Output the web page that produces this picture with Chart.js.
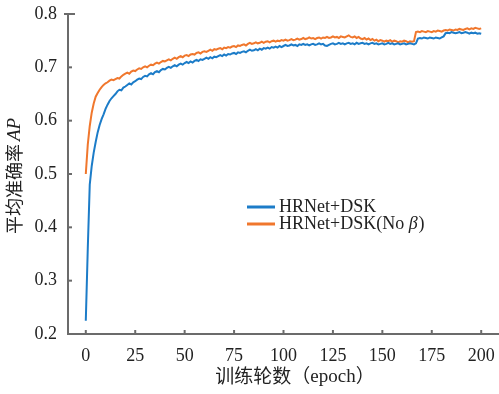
<!DOCTYPE html>
<html>
<head>
<meta charset="utf-8">
<script src="https://cdn.jsdelivr.net/npm/chart.js@4.4.0/dist/chart.umd.min.js"></script>
<style>
  html, body { margin: 0; padding: 0; background: #fff; }
  #wrap { width: 499px; height: 394px; }
</style>
</head>
<body>
<div id="wrap"><canvas id="apChart" width="499" height="394"></canvas></div>
<script>
// training epochs 0..200
var epochs = [];
for (var i = 0; i <= 200; i++) epochs.push(i);

var xTicks = [0, 25, 50, 75, 100, 125, 150, 175, 200];
var yTicks = [0.2, 0.3, 0.4, 0.5, 0.6, 0.7, 0.8];

// HRNet+DSK
var apDsk = [
  0.225, 0.360, 0.480, 0.515, 0.540, 0.560, 0.578, 0.592, 0.603, 0.612,
  0.622, 0.630, 0.637, 0.642, 0.646, 0.650, 0.655, 0.658, 0.657, 0.662,
  0.664, 0.667, 0.670, 0.668, 0.672, 0.674, 0.677, 0.679, 0.678, 0.682,
  0.684, 0.683, 0.687, 0.689, 0.687, 0.691, 0.693, 0.691, 0.695, 0.697,
  0.696, 0.699, 0.701, 0.699, 0.702, 0.704, 0.702, 0.705, 0.707, 0.705,
  0.708, 0.710, 0.708, 0.711, 0.709, 0.712, 0.714, 0.712, 0.715, 0.714,
  0.716, 0.718, 0.716, 0.719, 0.717, 0.720, 0.719, 0.721, 0.723, 0.721,
  0.724, 0.722, 0.725, 0.724, 0.726, 0.727, 0.725, 0.728, 0.727, 0.729,
  0.730, 0.728, 0.731, 0.733, 0.731, 0.732, 0.734, 0.732, 0.735, 0.733,
  0.736, 0.735, 0.737, 0.735, 0.738, 0.737, 0.739, 0.737, 0.740, 0.738,
  0.740, 0.742, 0.740, 0.741, 0.743, 0.741, 0.742, 0.740, 0.743, 0.742,
  0.744, 0.742, 0.743, 0.741, 0.743, 0.744, 0.742, 0.743, 0.745, 0.743,
  0.744, 0.741, 0.740, 0.742, 0.744, 0.745, 0.743, 0.744, 0.746, 0.744,
  0.745, 0.743, 0.745, 0.746, 0.744, 0.745, 0.743, 0.746, 0.744, 0.745,
  0.746, 0.744, 0.745, 0.743, 0.745, 0.746, 0.744, 0.745, 0.743, 0.744,
  0.745, 0.743, 0.744, 0.746, 0.744, 0.745, 0.743, 0.744, 0.745, 0.743,
  0.744, 0.745, 0.743, 0.744, 0.745, 0.744, 0.743, 0.745, 0.754, 0.755,
  0.754, 0.756, 0.755, 0.754, 0.756, 0.755, 0.754, 0.756, 0.755, 0.754,
  0.756, 0.758, 0.764, 0.765, 0.764, 0.766, 0.765, 0.764, 0.765, 0.766,
  0.764, 0.765, 0.766, 0.765, 0.763, 0.765, 0.764, 0.765, 0.763, 0.764,
  0.763
];

// HRNet+DSK(No β)
var apNoBeta = [
  0.500, 0.555, 0.590, 0.615, 0.632, 0.645, 0.652, 0.658, 0.663, 0.667,
  0.670, 0.672, 0.675, 0.677, 0.676, 0.678, 0.680, 0.679, 0.683, 0.686,
  0.688, 0.690, 0.688, 0.692, 0.694, 0.693, 0.696, 0.698, 0.697, 0.700,
  0.702, 0.700, 0.703, 0.705, 0.704, 0.707, 0.709, 0.707, 0.710, 0.712,
  0.711, 0.713, 0.715, 0.713, 0.716, 0.718, 0.716, 0.719, 0.721, 0.719,
  0.722, 0.723, 0.721, 0.724, 0.725, 0.724, 0.727, 0.728, 0.726, 0.729,
  0.730, 0.729, 0.731, 0.733, 0.731, 0.734, 0.733, 0.735, 0.736, 0.734,
  0.737, 0.736, 0.738, 0.737, 0.739, 0.740, 0.738, 0.741, 0.740, 0.742,
  0.743, 0.741, 0.744, 0.746, 0.744, 0.745, 0.747, 0.745, 0.746, 0.748,
  0.746, 0.748, 0.749, 0.747, 0.749, 0.750, 0.748, 0.750, 0.749, 0.751,
  0.750, 0.752, 0.750, 0.751, 0.753, 0.751, 0.752, 0.754, 0.752, 0.753,
  0.755, 0.753, 0.754, 0.756, 0.754, 0.755, 0.753, 0.755, 0.756, 0.754,
  0.756, 0.755, 0.757, 0.755, 0.756, 0.758, 0.756, 0.757, 0.755, 0.758,
  0.757, 0.756, 0.758, 0.760, 0.757, 0.756, 0.758, 0.755, 0.757, 0.754,
  0.753, 0.755, 0.752, 0.754, 0.751, 0.753, 0.750, 0.752, 0.749, 0.751,
  0.750, 0.748, 0.750, 0.749, 0.751, 0.748, 0.750, 0.749, 0.747, 0.749,
  0.748, 0.750, 0.749, 0.747, 0.749, 0.748, 0.749, 0.766, 0.767, 0.766,
  0.768, 0.767, 0.766, 0.768, 0.767, 0.766, 0.768, 0.767, 0.769, 0.768,
  0.767, 0.769, 0.770, 0.769, 0.771, 0.770, 0.769, 0.771, 0.770, 0.772,
  0.771, 0.770, 0.772, 0.773, 0.771, 0.773, 0.772, 0.774, 0.773, 0.772,
  0.773
];

var serif = '"Liberation Serif", "Times New Roman", serif';
var cjk = '"Noto Sans CJK SC", "Liberation Serif", serif';
var axisColor = '#6b6b6b';
var textColor = '#222';

// short ticks pointing into the plot, plus titles and legend
var decorPlugin = {
    id: 'decor',
    afterDraw: function (chart) {
        var ctx = chart.ctx;
        var area = chart.chartArea;
        var xs = chart.scales.x, ys = chart.scales.y;
        ctx.save();
        ctx.strokeStyle = axisColor;
        ctx.lineWidth = 2;
        xs.ticks.forEach(function (t) {
            var px = xs.getPixelForValue(t.value);
            ctx.beginPath();
            ctx.moveTo(px, area.bottom);
            ctx.lineTo(px, area.bottom - 4);
            ctx.stroke();
        });
        ys.ticks.forEach(function (t) {
            var py = ys.getPixelForValue(t.value);
            ctx.beginPath();
            ctx.moveTo(area.left - (t.value === 0.8 ? 4 : 0), py);
            ctx.lineTo(area.left + (t.value === 0.8 ? 7 : 4), py);
            ctx.stroke();
        });

        ctx.fillStyle = textColor;
        ctx.textBaseline = 'middle';
        ctx.textAlign = 'left';

        // y title (rotated)
        ctx.save();
        ctx.translate(14, 176);
        ctx.rotate(-Math.PI / 2);
        ctx.font = '18px ' + cjk;
        var p1 = '平均准确率';
        var w1 = ctx.measureText(p1).width;
        ctx.font = 'italic 19px ' + serif;
        var w2 = ctx.measureText('AP').width;
        var sx = -(w1 + w2 + 3) / 2;
        ctx.font = '18px ' + cjk;
        ctx.fillText(p1, sx, 0);
        ctx.font = 'italic 19px ' + serif;
        ctx.fillText('AP', sx + w1 + 3, 1);
        ctx.restore();

        // x title
        ctx.font = '19px ' + cjk;
        var q1 = '训练轮数（';
        var v1 = ctx.measureText(q1).width;
        ctx.font = '19px ' + serif;
        var v2 = ctx.measureText('epoch').width;
        ctx.font = '19px ' + cjk;
        var v3 = ctx.measureText('）').width;
        var tx = 295 - (v1 + v2 + v3) / 2;
        ctx.fillText(q1, tx, 376);
        ctx.font = '19px ' + serif;
        ctx.fillText('epoch', tx + v1, 377);
        ctx.font = '19px ' + cjk;
        ctx.fillText('）', tx + v1 + v2, 376);

        // legend
        var ly = [207, 224];
        chart.data.datasets.forEach(function (ds, k) {
            ctx.strokeStyle = ds.borderColor;
            ctx.lineWidth = 3;
            ctx.beginPath();
            ctx.moveTo(247, ly[k]);
            ctx.lineTo(275, ly[k]);
            ctx.stroke();
            var parts = ds.label.split('β');
            var x = 279;
            ctx.font = '18px ' + serif;
            ctx.fillText(parts[0], x, ly[k]);
            x += ctx.measureText(parts[0]).width;
            if (parts.length > 1) {
                ctx.font = 'italic 18px ' + serif;
                ctx.fillText('β', x, ly[k]);
                x += ctx.measureText('β').width + 1;
                ctx.font = '18px ' + serif;
                ctx.fillText(parts[1], x, ly[k]);
            }
        });
        ctx.restore();
    }
};

function noPad(scale) {
    scale.paddingLeft = 0;
    scale.paddingRight = 0;
    scale.paddingTop = 0;
    scale.paddingBottom = 0;
}

var ctx = document.getElementById('apChart').getContext('2d');
var apChart = new Chart(ctx, {
    type: 'line',
    data: {
        labels: epochs,
        datasets: [{
            label: 'HRNet+DSK',
            data: apDsk,
            borderColor: '#1c7cc8',
            borderWidth: 2,
            pointRadius: 0,
            tension: 0,
            fill: false
        }, {
            label: 'HRNet+DSK(No β)',
            data: apNoBeta,
            borderColor: '#f0772d',
            borderWidth: 2,
            pointRadius: 0,
            tension: 0,
            fill: false
        }]
    },
    options: {
        responsive: false,
        animation: false,
        layout: { padding: { top: 14, right: 0, left: 0, bottom: 0 } },
        plugins: {
            legend: { display: false },
            tooltip: { enabled: false }
        },
        scales: {
            x: {
                type: 'linear',
                min: -9,
                max: 209,
                afterBuildTicks: function (scale) {
                    scale.ticks = xTicks.map(function (v) { return { value: v }; });
                },
                afterFit: function (scale) { scale.height = 60; noPad(scale); },
                grid: { display: false, drawTicks: false },
                border: { display: true, color: axisColor, width: 2 },
                ticks: {
                    padding: 11,
                    maxRotation: 0,
                    color: textColor,
                    font: { family: serif, size: 18 }
                }
            },
            y: {
                min: 0.2,
                max: 0.8,
                afterBuildTicks: function (scale) {
                    scale.ticks = yTicks.map(function (v) { return { value: v }; });
                },
                afterFit: function (scale) { scale.width = 68; noPad(scale); },
                grid: { display: false, drawTicks: false },
                border: { display: true, color: axisColor, width: 2 },
                ticks: {
                    padding: 11,
                    color: textColor,
                    font: { family: serif, size: 18 },
                    callback: function (v) { return Number(v).toFixed(1); }
                }
            }
        }
    },
    plugins: [decorPlugin]
});
</script>
</body>
</html>
